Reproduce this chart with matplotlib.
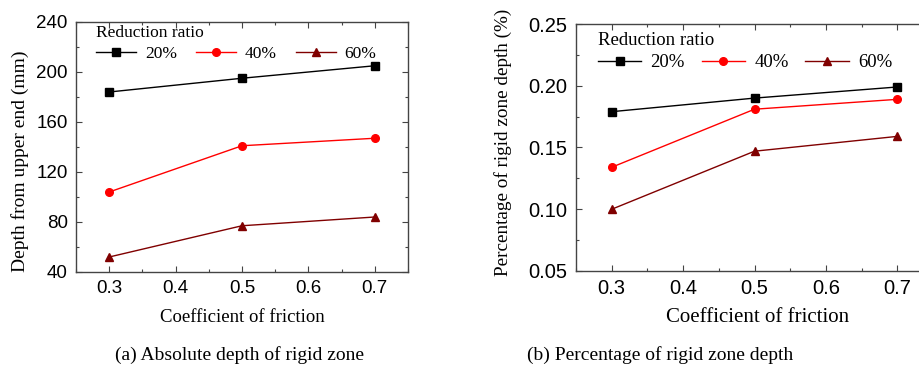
import numpy as np
import matplotlib
matplotlib.use('Agg')
import matplotlib.pyplot as plt
from matplotlib.ticker import MultipleLocator, FormatStrFormatter

# data
friction = [0.3, 0.5, 0.7]
ratios = ['20%', '40%', '60%']
depth_abs = [[184, 195, 205],       # 20%
             [104, 141, 147],       # 40%
             [52, 77, 84]]          # 60%
depth_pct = [[0.179, 0.190, 0.199],
             [0.134, 0.181, 0.189],
             [0.100, 0.147, 0.159]]

colors = ['black', '#ff0000', '#800000']
markers = ['s', 'o', '^']

serif = ['Liberation Serif', 'DejaVu Serif']
sans = ['Liberation Sans', 'DejaVu Sans']

fig = plt.figure(figsize=(9.2, 3.68), dpi=100)
W, H = 920.0, 368.0

def px_axes(l, r, t, b):
    return fig.add_axes([l / W, (H - b) / H, (r - l) / W, (b - t) / H])

def style_axes(ax, tick_size):
    for sp in ax.spines.values():
        sp.set_linewidth(1.0)
        sp.set_color('#444444')
    ax.tick_params(which='both', direction='in', top=True, right=True, width=0.8, color='#444444')
    ax.tick_params(which='major', length=4, labelsize=tick_size, pad=6)
    ax.tick_params(which='minor', length=2.5)
    for lab in ax.get_xticklabels() + ax.get_yticklabels():
        lab.set_family(sans)

def add_legend(ax, size, anchor, colsp):
    leg = ax.legend(title='Reduction ratio', ncol=3, frameon=False, loc='upper left',
                    bbox_to_anchor=anchor, alignment='left', handlelength=2.3,
                    columnspacing=colsp, handletextpad=0.5, borderaxespad=0.2,
                    labelspacing=0.3,
                    prop={'family': serif, 'size': size},
                    title_fontproperties={'family': serif, 'size': size})
    return leg

# (a) absolute depth
ax1 = px_axes(76, 408, 22, 272)
for i in range(len(ratios)):
    ax1.plot(friction, depth_abs[i], color=colors[i], marker=markers[i], markersize=5.5,
             linewidth=1.0, label=ratios[i])
ax1.set_xlim(0.25, 0.75)
ax1.set_ylim(40, 240)
ax1.xaxis.set_major_locator(MultipleLocator(0.1))
ax1.xaxis.set_minor_locator(MultipleLocator(0.05))
ax1.yaxis.set_major_locator(MultipleLocator(40))
ax1.yaxis.set_minor_locator(MultipleLocator(20))
ax1.xaxis.set_major_formatter(FormatStrFormatter('%.1f'))
style_axes(ax1, 13.5)
fig.text(20 / W, (H - 272) / H, 'Depth from upper end (mm)', rotation=90,
         ha='center', va='bottom', family=serif, fontsize=14)
fig.text(242 / W, (H - 318) / H, 'Coefficient of friction', ha='center', va='center',
         family=serif, fontsize=13.5)
add_legend(ax1, 12.5, (0.03, 1.03), 1.1)

# (b) percentage
ax2 = px_axes(576, 933, 24, 271)
for i in range(len(ratios)):
    ax2.plot(friction, depth_pct[i], color=colors[i], marker=markers[i], markersize=5.5,
             linewidth=1.0, label=ratios[i])
ax2.set_xlim(0.25, 0.75)
ax2.set_ylim(0.05, 0.25)
ax2.xaxis.set_major_locator(MultipleLocator(0.1))
ax2.xaxis.set_minor_locator(MultipleLocator(0.05))
ax2.yaxis.set_major_locator(MultipleLocator(0.05))
ax2.yaxis.set_minor_locator(MultipleLocator(0.025))
ax2.xaxis.set_major_formatter(FormatStrFormatter('%.1f'))
ax2.yaxis.set_major_formatter(FormatStrFormatter('%.2f'))
style_axes(ax2, 14.5)
fig.text(758 / W, (H - 318) / H, 'Coefficient of friction', ha='center', va='center',
         family=serif, fontsize=15)
fig.text(503 / W, (H - 276) / H, 'Percentage of rigid zone depth (%)', rotation=90,
         ha='center', va='bottom', family=serif, fontsize=13.8)
add_legend(ax2, 13.5, (0.03, 1.015), 0.9)

# captions
fig.text(240 / W, (H - 355) / H, '(a) Absolute depth of rigid zone', ha='center', va='center',
         family=serif, fontsize=14)
fig.text(660 / W, (H - 355) / H, '(b) Percentage of rigid zone depth', ha='center', va='center',
         family=serif, fontsize=14)

fig.savefig('out.png', dpi=100)
